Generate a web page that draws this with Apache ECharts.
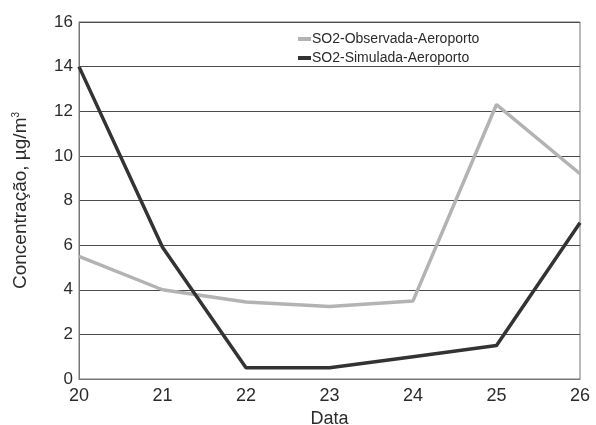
<!DOCTYPE html>
<html>
<head>
<meta charset="utf-8">
<script src="https://cdn.jsdelivr.net/npm/echarts@6/dist/echarts.min.js"></script>
<style>
  html, body { margin: 0; padding: 0; background: #fff; }
  #chart { width: 596px; height: 425px; }
</style>
</head>
<body>
<div id="chart"></div>
<script>
// Dias do período analisado
const dias = ['20', '21', '22', '23', '24', '25', '26'];
// Concentração de SO2 (µg/m³) na estação Aeroporto
const observada = [5.5, 4.0, 3.45, 3.25, 3.5, 12.3, 9.2];
const simulada = [14.0, 5.9, 0.5, 0.5, 1.0, 1.5, 7.0];
const nomeObservada = 'SO2-Observada-Aeroporto';
const nomeSimulada = 'SO2-Simulada-Aeroporto';

const fonte = 'Liberation Sans, Arial, sans-serif';
const corTexto = '#2b2b2b';
const chart = echarts.init(document.getElementById('chart'), null, { renderer: 'canvas' });

chart.setOption({
  animation: false,
  backgroundColor: '#ffffff',
  textStyle: { fontFamily: fonte, color: corTexto },
  grid: {
    left: 79, top: 22, right: 16, bottom: 46,
    outerBoundsMode: 'none',
    containLabel: false,
    show: true, borderColor: '#777', borderWidth: 1
  },
  legend: {
    orient: 'vertical',
    left: 293,
    top: 27,
    itemWidth: 13,
    itemHeight: 4,
    itemGap: 5,
    icon: 'rect',
    textStyle: { fontFamily: fonte, fontSize: 14, color: corTexto, padding: [0, 0, 0, -4] },
    data: [nomeObservada, nomeSimulada]
  },
  xAxis: {
    type: 'category',
    data: dias,
    boundaryGap: false,
    name: 'Data',
    nameLocation: 'middle',
    nameGap: 26,
    nameTextStyle: { fontFamily: fonte, fontSize: 18, color: corTexto },
    axisLine: { lineStyle: { color: '#777', width: 1 } },
    axisTick: { show: false },
    axisLabel: { fontFamily: fonte, fontSize: 18, color: corTexto, margin: 8 },
    splitLine: { show: false }
  },
  yAxis: {
    type: 'value',
    min: 0,
    max: 16,
    interval: 2,
    name: '{a|Concentração, µg/m}{s|3}',
    nameLocation: 'middle',
    nameGap: 48,
    nameRotate: 90,
    nameTextStyle: {
      rich: {
        a: { fontFamily: fonte, fontSize: 19, color: corTexto },
        s: { fontFamily: fonte, fontSize: 10, color: corTexto, verticalAlign: 'top', padding: [0, 0, 10, 0] }
      }
    },
    axisLine: { show: true, lineStyle: { color: '#777', width: 1 } },
    axisTick: { show: false },
    axisLabel: { fontFamily: fonte, fontSize: 17, color: corTexto, margin: 6 },
    splitLine: { show: true, lineStyle: { color: '#4a4a4a', width: 1 } }
  },
  series: [
    {
      name: nomeObservada,
      type: 'line',
      data: observada,
      symbol: 'none',
      color: '#b3b3b3',
      lineStyle: { color: '#b3b3b3', width: 3.5 },
      z: 3
    },
    {
      name: nomeSimulada,
      type: 'line',
      data: simulada,
      symbol: 'none',
      color: '#333333',
      lineStyle: { color: '#333333', width: 3.5 },
      z: 4
    }
  ]
});
</script>
</body>
</html>
